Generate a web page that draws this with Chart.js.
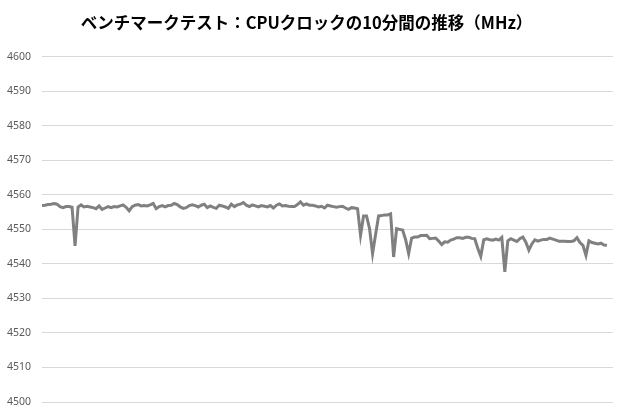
<!DOCTYPE html>
<html>
<head>
<meta charset="utf-8">
<script src="https://cdn.jsdelivr.net/npm/chart.js@4.4.1/dist/chart.umd.min.js"></script>
<style>
html,body{margin:0;padding:0;background:#fff;overflow:hidden;}
#wrap{width:620px;height:415px;position:relative;overflow:hidden;}
canvas{display:block;}
</style>
</head>
<body>
<div id="wrap"><canvas id="c" width="620" height="415"></canvas></div>
<script>
const titleText = "ベンチマークテスト：CPUクロックの10分間の推移（MHz）";
const yTicks = [4500, 4510, 4520, 4530, 4540, 4550, 4560, 4570, 4580, 4590, 4600];
const clockPart1 = [
  4556.9, 4557.0, 4557.2, 4557.3, 4557.5, 4557.3, 4556.6, 4556.3, 4556.6, 4556.6,
  4556.4, 4545.2, 4556.5, 4557.1, 4556.5, 4556.7, 4556.5, 4556.3, 4556.0, 4556.8,
  4555.8, 4556.2, 4556.6, 4556.3, 4556.6, 4556.5, 4556.8, 4557.1, 4556.4, 4555.4,
  4556.6, 4557.0, 4557.2, 4556.8, 4556.9, 4556.8, 4557.1, 4557.5, 4556.0, 4556.6,
  4556.9, 4556.5, 4556.9, 4557.0, 4557.5, 4557.2, 4556.5, 4556.1, 4556.3, 4556.9,
  4557.1, 4556.9, 4556.5, 4557.0, 4557.3, 4556.3, 4556.8, 4556.4, 4556.1, 4557.0,
  4556.8, 4556.5, 4556.1, 4557.3, 4556.6
];
const clockPart2 = [
  4557.1, 4557.3, 4557.8, 4557.0, 4556.6, 4557.1, 4556.8, 4556.5, 4556.9, 4556.7,
  4556.5, 4556.9, 4556.2, 4557.0, 4557.4, 4556.8, 4556.9, 4556.7, 4556.6, 4556.6,
  4557.2, 4558.0, 4557.0, 4557.4, 4557.0, 4557.0, 4556.8, 4556.5, 4556.7, 4556.2,
  4557.0, 4556.8, 4556.6, 4556.4, 4556.6, 4556.7, 4556.2, 4555.8, 4556.3, 4556.2,
  4556.0, 4548.3, 4553.9, 4553.9, 4550.2, 4543.0, 4548.5, 4553.9, 4554.0, 4554.2,
  4554.2, 4554.5, 4542.0, 4550.2, 4550.0, 4549.8, 4547.0, 4543.0, 4547.5, 4547.8,
  4547.8, 4548.2, 4548.2, 4548.3
];
const clockPart3 = [
  4547.3, 4547.4, 4547.5, 4546.6, 4545.6, 4546.4, 4546.3, 4546.9, 4547.2, 4547.6,
  4547.6, 4547.4, 4547.7, 4547.7, 4547.4, 4547.3, 4544.5, 4542.2, 4547.0, 4547.3,
  4547.0, 4546.9, 4547.2, 4546.9, 4547.7, 4537.7, 4546.7, 4547.3, 4546.9, 4546.5,
  4547.3, 4547.8, 4546.3, 4544.0, 4545.8, 4547.0, 4546.6, 4546.9, 4547.1, 4547.1,
  4547.5, 4547.2, 4546.9, 4546.6, 4546.6, 4546.6, 4546.5, 4546.5, 4546.7, 4547.6,
  4546.2, 4545.4, 4542.5, 4546.7, 4546.2, 4546.0, 4545.8, 4546.0, 4545.5, 4545.4
];
const clockValues = clockPart1.concat(clockPart2, clockPart3);
const sampleCount = 190; // x-axis span in samples (10 minutes)

const points = clockValues.map((v, i) => ({ x: i, y: v }));

new Chart(document.getElementById('c'), {
  type: 'line',
  data: {
    datasets: [{
      data: points,
      borderColor: '#808080',
      borderWidth: 3,
      pointRadius: 0,
      tension: 0,
      fill: false
    }]
  },
  options: {
    responsive: false,
    animation: false,
    layout: { padding: { left: 0, right: 7, top: 0, bottom: 13 } },
    plugins: {
      legend: { display: false },
      tooltip: { enabled: false },
      title: {
        display: true,
        text: titleText,
        color: '#000000',
        font: { family: '"Noto Sans CJK JP", "Noto Sans", sans-serif', size: 16.5, weight: 'bold' },
        padding: { top: 13, bottom: 24 }
      }
    },
    scales: {
      x: {
        type: 'linear',
        display: false,
        min: 0,
        max: sampleCount
      },
      y: {
        min: 4500,
        max: 4600,
        afterBuildTicks: (s) => { s.ticks = yTicks.map(v => ({ value: v })); },
        afterFit: (s) => { s.width = 42; s.paddingBottom = 0; },
        border: { display: false },
        grid: { color: '#d9d9d9', lineWidth: 1, drawTicks: false },
        ticks: {
          color: '#595959',
          padding: 11,
          callback: (v) => String(v),
          font: { family: '"Noto Sans", sans-serif', size: 10.5 }
        }
      }
    }
  }
});
</script>
</body>
</html>
